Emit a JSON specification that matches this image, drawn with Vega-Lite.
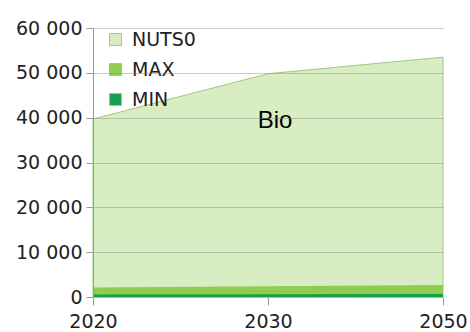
{
  "$schema": "https://vega.github.io/schema/vega-lite/v6.json",
  "width": 350,
  "height": 269,
  "autosize": {"type": "none"},
  "padding": {"left": 93, "top": 28, "right": 27, "bottom": 35},
  "background": "white",
  "config": {
    "view": {"stroke": null},
    "font": "DejaVu Sans"
  },
  "datasets": {
    "series": [
      {"series": "NUTS0", "year": "2020", "value": 39700},
      {"series": "NUTS0", "year": "2030", "value": 49800},
      {"series": "NUTS0", "year": "2050", "value": 53500},
      {"series": "MAX", "year": "2020", "value": 2100},
      {"series": "MAX", "year": "2030", "value": 2400},
      {"series": "MAX", "year": "2050", "value": 2700},
      {"series": "MIN", "year": "2020", "value": 550},
      {"series": "MIN", "year": "2030", "value": 600},
      {"series": "MIN", "year": "2050", "value": 650}
    ],
    "labels": [
      {"label": "Bio", "year": "2030", "value": 37700}
    ]
  },
  "encoding": {
    "x": {
      "field": "year", "type": "ordinal",
      "scale": {"type": "point", "padding": 0, "domain": ["2020", "2030", "2050"]},
      "axis": {
        "title": null, "labelAngle": 0, "labelFontSize": 19, "labelColor": "#222",
        "labelPadding": 7, "tickSize": 8, "tickColor": "#999", "domain": false, "grid": false
      }
    },
    "y": {
      "field": "value", "type": "quantitative",
      "scale": {"domain": [0, 60000], "nice": false},
      "axis": {
        "title": null, "values": [0, 10000, 20000, 30000, 40000, 50000, 60000],
        "labelExpr": "replace(format(datum.value, ','), ',', ' ')",
        "labelFontSize": 19, "labelColor": "#222", "labelPadding": 4,
        "tickSize": 7, "tickColor": "#999", "domainColor": "#999",
        "gridColor": "#888", "gridOpacity": 0.45, "zindex": 1
      }
    }
  },
  "layer": [
    {
      "data": {"name": "series"},
      "transform": [{"filter": "datum.series === 'NUTS0'"}],
      "mark": {"type": "area", "stroke": "#9fc882", "strokeWidth": 1},
      "encoding": {
        "y": {"field": "value", "type": "quantitative", "stack": null},
        "color": {
          "field": "series", "type": "nominal",
          "scale": {"domain": ["NUTS0", "MAX", "MIN"], "range": ["#d8edc1", "#8fcc50", "#17a04c"]},
          "legend": {
            "title": null, "orient": "none", "legendX": 13, "legendY": 2,
            "symbolType": "square", "symbolSize": 144, "symbolStrokeWidth": 1,
            "labelFontSize": 19, "labelColor": "#222", "labelOffset": 7,
            "rowPadding": 10, "padding": 0,
            "encode": {
              "symbols": {"update": {"stroke": {"signal": "datum.label === 'NUTS0' ? '#999' : 'transparent'"}}}
            }
          }
        }
      }
    },
    {
      "data": {"name": "series"},
      "transform": [{"filter": "datum.series === 'MAX'"}],
      "mark": {"type": "area"},
      "encoding": {
        "y": {"field": "value", "type": "quantitative", "stack": null},
        "color": {"field": "series", "type": "nominal"}
      }
    },
    {
      "data": {"name": "series"},
      "transform": [{"filter": "datum.series === 'MIN'"}],
      "mark": {"type": "area"},
      "encoding": {
        "y": {"field": "value", "type": "quantitative", "stack": null},
        "color": {"field": "series", "type": "nominal"}
      }
    },
    {
      "data": {"name": "labels"},
      "mark": {"type": "text", "font": "Liberation Sans", "fontSize": 24, "color": "#000", "align": "center", "baseline": "alphabetic", "dx": 7},
      "encoding": {
        "text": {"field": "label"}
      }
    }
  ]
}
